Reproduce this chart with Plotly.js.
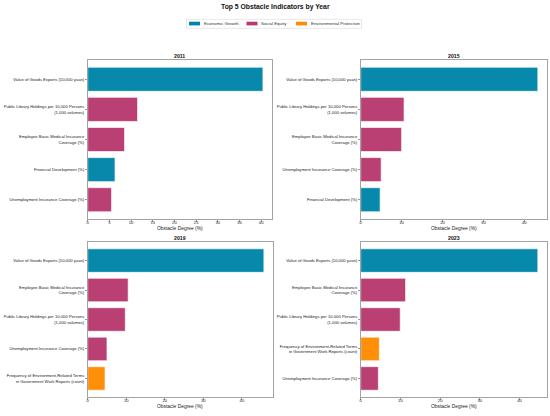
<!DOCTYPE html>
<html>
<head>
<meta charset="utf-8">
<script src="https://cdn.plot.ly/plotly-3.0.1.min.js"></script>
<style>html,body{margin:0;padding:0;background:#fff;}#chart{width:550px;height:416px;}</style>
</head>
<body>
<div id="chart"></div>
<script>
// ---- Data ----
const years = ["2011", "2015", "2019", "2023"];
const dimensions = ["Economic Growth", "Social Equity", "Environmental Protection"];
const dimColors = ["#0086AA", "#B8396F", "#FF8C00"];

const LBL_EXPORT = "Value of Goods Exports (10,000 yuan)";
const LBL_LIB = "Public Library Holdings per 10,000 Persons<br>(1,000 volumes)";
const LBL_MED = "Employee Basic Medical Insurance<br>Coverage (%)";
const LBL_FIN = "Financial Development (%)";
const LBL_UNEMP = "Unemployment Insurance Coverage (%)";
const LBL_ENV = "Frequency of Environment-Related Terms<br>in Government Work Reports (count)";

const indicators2011 = [LBL_EXPORT, LBL_LIB, LBL_MED, LBL_FIN, LBL_UNEMP];
const values2011 = [40.4, 11.5, 8.5, 6.3, 5.5];
const dims2011 = ["Economic Growth", "Social Equity", "Social Equity", "Economic Growth", "Social Equity"];

const indicators2015 = [LBL_EXPORT, LBL_LIB, LBL_MED, LBL_UNEMP, LBL_FIN];
const values2015 = [43.3, 10.6, 10.0, 5.0, 4.75];
const dims2015 = ["Economic Growth", "Social Equity", "Social Equity", "Social Equity", "Economic Growth"];

const indicators2019 = [LBL_EXPORT, LBL_MED, LBL_LIB, LBL_UNEMP, LBL_ENV];
const values2019 = [45.7, 10.5, 9.75, 5.0, 4.5];
const dims2019 = ["Economic Growth", "Social Equity", "Social Equity", "Social Equity", "Environmental Protection"];

const indicators2023 = [LBL_EXPORT, LBL_MED, LBL_LIB, LBL_ENV, LBL_UNEMP];
const values2023 = [44.6, 11.3, 9.95, 4.7, 4.45];
const dims2023 = ["Economic Growth", "Social Equity", "Social Equity", "Environmental Protection", "Social Equity"];

const panelIndicators = [indicators2011, indicators2015, indicators2019, indicators2023];
const panelValues = [values2011, values2015, values2019, values2023];
const panelDims = [dims2011, dims2015, dims2019, dims2023];

// ---- Layout geometry (pixels) ----
const W = 550, H = 416;
const panels = [
  {x0: 87.7, x1: 271.7, y0: 60, y1: 219},
  {x0: 360.7, x1: 546.7, y0: 60, y1: 219},
  {x0: 87.7, x1: 272.7, y0: 241.7, y1: 397.3},
  {x0: 360.7, x1: 546.7, y0: 241.7, y1: 397.3}
];
const px = v => v / W;
const py = v => 1 - v / H;

const FONT = "Liberation Sans, Arial, sans-serif";
const data = [];
const layout = {
  width: W, height: H,
  margin: {l: 0, r: 0, t: 0, b: 0},
  paper_bgcolor: "#fff", plot_bgcolor: "#fff",
  font: {family: FONT, color: "#222", size: 4.2},
  barmode: "overlay",
  showlegend: false,
  shapes: [],
  annotations: [
    {text: "<b>Top 5 Obstacle Indicators by Year</b>", x: px(275), y: py(6.8),
     xref: "paper", yref: "paper", xanchor: "center", yanchor: "middle", showarrow: false,
     font: {size: 6.8, family: FONT, color: "#111"}}
  ]
};

// ---- Legend (drawn as shapes + text) ----
layout.shapes.push({type: "rect", xref: "paper", yref: "paper",
  x0: px(186.5), x1: px(361.5), y0: py(28.3), y1: py(19.3),
  line: {color: "#d6d6d6", width: 0.6}, fillcolor: "rgba(255,255,255,0.9)", layer: "above"});
const legSwatchX = [189, 246.5, 296];
const legTextX = [202, 259, 309];
dimensions.forEach((d, di) => {
  layout.shapes.push({type: "rect", xref: "paper", yref: "paper",
    x0: px(legSwatchX[di]), x1: px(legSwatchX[di] + 11), y0: py(25.4), y1: py(21.7),
    line: {width: 0}, fillcolor: dimColors[di], layer: "above"});
  layout.annotations.push({text: d, x: px(legTextX[di]), y: py(23.6),
    xref: "paper", yref: "paper", xanchor: "left", yanchor: "middle", showarrow: false,
    font: {size: 4.4, family: FONT, color: "#333"}});
});

panels.forEach((p, i) => {
  const n = i + 1;
  const xa = "xaxis" + (n === 1 ? "" : n), ya = "yaxis" + (n === 1 ? "" : n);
  const xr = "x" + (n === 1 ? "" : n), yr = "y" + (n === 1 ? "" : n);
  const vals = panelValues[i], cats = panelIndicators[i], dims = panelDims[i];
  const maxV = Math.max(...vals);
  dimensions.forEach((d, di) => {
    const xs = [], ys = [];
    dims.forEach((dd, k) => { if (dd === d) { xs.push(vals[k]); ys.push(cats[k]); } });
    if (!xs.length) return;
    data.push({
      type: "bar", orientation: "h", x: xs, y: ys, name: d,
      xaxis: xr, yaxis: yr, width: 0.8,
      marker: {color: dimColors[di], opacity: 0.97, line: {color: "rgba(255,255,255,0.85)", width: 0.8}},
      hoverinfo: "x+y"
    });
  });
  layout[xa] = {
    domain: [px(p.x0), px(p.x1)], anchor: yr,
    range: [0, maxV * 1.05], dtick: (maxV * 1.05 > 44 ? 10 : 5),
    showgrid: false, zeroline: false,
    showline: true, linecolor: "#8c8c8c", linewidth: 0.8, mirror: true,
    ticks: "outside", ticklen: 1.8, tickwidth: 0.6, tickcolor: "#555",
    ticklabelstandoff: -3,
    tickfont: {size: 4.2, family: FONT, color: "#222"},
    title: {text: ""}
  };
  layout[ya] = {
    domain: [py(p.y1), py(p.y0)], anchor: xr,
    type: "category", categoryorder: "array", categoryarray: cats,
    range: [4.64, -0.64],
    showgrid: false, zeroline: false,
    showline: true, linecolor: "#8c8c8c", linewidth: 0.8, mirror: true,
    ticks: "outside", ticklen: 1.8, tickwidth: 0.6, tickcolor: "#555",
    ticklabelstandoff: 0,
    tickfont: {size: 4.2, family: FONT, color: "#222"}
  };
  // x-axis title
  layout.annotations.push({
    text: "Obstacle Degree (%)", x: px((p.x0 + p.x1) / 2), y: py(p.y1 + 9.6),
    xref: "paper", yref: "paper", xanchor: "center", yanchor: "middle", showarrow: false,
    font: {size: 4.9, family: FONT, color: "#222"}
  });
  // panel title
  layout.annotations.push({
    text: "<b>" + years[i] + "</b>", x: px((p.x0 + p.x1) / 2), y: py(p.y0 - 3.6),
    xref: "paper", yref: "paper", xanchor: "center", yanchor: "middle", showarrow: false,
    font: {size: 5.2, family: FONT, color: "#111"}
  });
});

Plotly.newPlot("chart", data, layout, {displayModeBar: false, staticPlot: true});
</script>
</body>
</html>
